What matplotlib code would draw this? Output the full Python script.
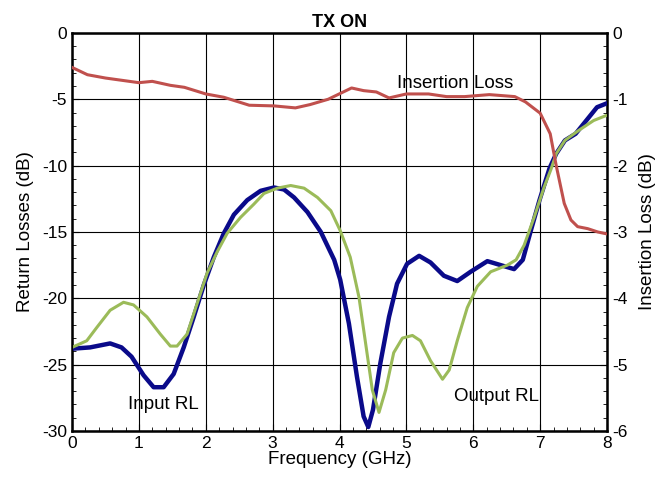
import matplotlib
matplotlib.use("Agg")
import matplotlib.pyplot as plt
from matplotlib.ticker import MultipleLocator

plt.rcParams["font.family"] = ["Liberation Sans", "DejaVu Sans"]
plt.rcParams["axes.unicode_minus"] = False

# =========================================
# Data
# =========================================

input_freq = [0.0, 0.27, 0.57, 0.74, 0.89, 1.07, 1.22, 1.37, 1.52, 1.67,
              1.82, 1.97, 2.12, 2.27, 2.42, 2.62, 2.82, 3.02, 3.17, 3.32,
              3.52, 3.72, 3.92, 4.01, 4.14, 4.26, 4.36, 4.43, 4.5, 4.61,
              4.74, 4.86, 5.01, 5.19, 5.36, 5.56, 5.76, 5.96, 6.21, 6.41,
              6.61, 6.74, 6.86, 6.99, 7.14, 7.24, 7.37, 7.53, 7.69, 7.85, 8.0]
input_rl = [-23.8, -23.7, -23.4, -23.7, -24.4, -25.8, -26.7, -26.7, -25.7,
            -23.7, -21.4, -19.0, -16.9, -15.1, -13.7, -12.6, -11.9, -11.65,
            -11.8, -12.4, -13.5, -15.0, -17.1, -18.6, -21.9, -25.9, -28.9,
            -29.7, -28.4, -24.9, -21.4, -18.9, -17.4, -16.8, -17.3, -18.3,
            -18.7, -18.0, -17.2, -17.5, -17.8, -17.1, -14.9, -12.6, -10.2,
            -9.1, -8.1, -7.6, -6.6, -5.6, -5.3]

output_freq = [0.0, 0.22, 0.37, 0.57, 0.77, 0.92, 1.12, 1.32, 1.47, 1.57,
               1.72, 1.87, 2.02, 2.17, 2.32, 2.52, 2.72, 2.87, 3.07, 3.27,
               3.47, 3.67, 3.87, 4.01, 4.16, 4.29, 4.39, 4.49, 4.59, 4.69,
               4.81, 4.94, 5.09, 5.21, 5.36, 5.54, 5.64, 5.76, 5.91, 6.06,
               6.26, 6.51, 6.64, 6.76, 6.91, 7.06, 7.16, 7.24, 7.37, 7.59,
               7.8, 8.0]
output_rl = [-23.7, -23.2, -22.2, -20.9, -20.3, -20.5, -21.4, -22.7, -23.6,
             -23.6, -22.7, -20.4, -18.1, -16.5, -15.1, -13.9, -12.9, -12.1,
             -11.7, -11.5, -11.7, -12.4, -13.4, -14.9, -16.9, -19.9, -23.4,
             -26.9, -28.6, -26.9, -24.1, -23.0, -22.8, -23.2, -24.7, -26.1,
             -25.4, -23.2, -20.7, -19.1, -18.0, -17.5, -17.1, -16.0, -13.9,
             -11.6, -10.3, -9.1, -8.1, -7.3, -6.6, -6.2]

il_freq = [0.0, 0.23, 0.5, 1.0, 1.2, 1.47, 1.68, 2.0, 2.27, 2.65, 3.02, 3.34,
           3.56, 3.83, 4.18, 4.36, 4.55, 4.74, 5.0, 5.33, 5.6, 5.87, 6.24,
           6.62, 6.78, 7.0, 7.15, 7.24, 7.36, 7.46, 7.56, 7.71, 7.86, 8.0]
insertion_loss = [-0.52, -0.63, -0.68, -0.75, -0.73, -0.79, -0.82, -0.92,
                  -0.97, -1.09, -1.10, -1.13, -1.08, -1.0, -0.83, -0.87,
                  -0.89, -0.98, -0.92, -0.92, -0.96, -0.96, -0.93, -0.96,
                  -1.04, -1.21, -1.52, -2.0, -2.57, -2.82, -2.92, -2.95,
                  -3.0, -3.03]


def style_ticks(ax):
    ax.tick_params(direction="in", which="both", labelsize=12.5)
    ax.tick_params(which="major", length=5)
    ax.tick_params(which="minor", length=3)


def main() -> None:
    fig = plt.figure(figsize=(6.62, 4.84), dpi=100)
    ax = fig.add_axes([0.1088, 0.1095, 0.8082, 0.8225])

    ax.plot(input_freq, input_rl, color="#0a0a8a", lw=3.2, zorder=3,
            solid_joinstyle="round")
    ax.plot(output_freq, output_rl, color="#9bbb59", lw=2.2, zorder=3,
            solid_joinstyle="round")

    ax.set_xlim(0, 8)
    ax.set_ylim(-30, 0)
    ax.xaxis.set_major_locator(MultipleLocator(1))
    ax.xaxis.set_minor_locator(MultipleLocator(0.2))
    ax.yaxis.set_major_locator(MultipleLocator(5))
    ax.yaxis.set_minor_locator(MultipleLocator(1))
    ax.grid(True, which="major", color="black", lw=0.8)
    style_ticks(ax)
    for sp in ax.spines.values():
        sp.set_linewidth(1.8)

    ax.set_xlabel("Frequency (GHz)", fontsize=13.5, labelpad=0)
    ax.set_ylabel("Return Losses (dB)", fontsize=13.5, labelpad=6)
    ax.set_title("TX ON", fontsize=13, fontweight="bold", pad=4)

    ax2 = ax.twinx()
    ax2.plot(il_freq, insertion_loss, color="#c0504d", lw=2.2, zorder=3,
             solid_joinstyle="round")
    ax2.set_ylim(-6, 0)
    ax2.yaxis.set_major_locator(MultipleLocator(1))
    ax2.yaxis.set_minor_locator(MultipleLocator(0.2))
    style_ticks(ax2)
    ax2.set_ylabel("Insertion Loss (dB)", fontsize=13.5, labelpad=8)

    ax.text(5.73, -3.84, "Insertion Loss", fontsize=13.5, ha="center", va="center", zorder=5)
    ax.text(1.36, -28.0, "Input RL", fontsize=13.5, ha="center", va="center", zorder=5)
    ax.text(6.35, -27.4, "Output RL", fontsize=13.5, ha="center", va="center", zorder=5)

    fig.savefig("out.png", dpi=100)


if __name__ == "__main__":
    main()
